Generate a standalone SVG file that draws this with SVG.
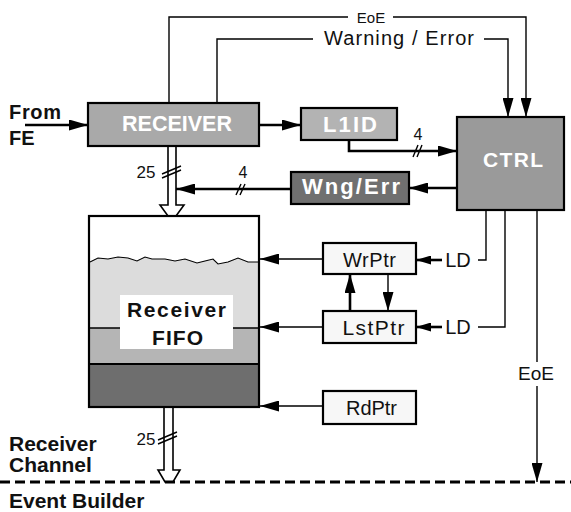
<svg xmlns="http://www.w3.org/2000/svg" width="571" height="512" viewBox="0 0 571 512">
<defs>
<style>
.box{stroke:#000;stroke-width:2.2}
.ln{fill:none;stroke:#000;stroke-width:1.4}
.th{fill:none;stroke:#000;stroke-width:2.6}
.hol{fill:#fff;stroke:#000;stroke-width:1.6;stroke-linejoin:miter}
.wt{font-family:"Liberation Sans",Arial,sans-serif;font-weight:bold;fill:#fff;text-anchor:middle}
.bk{font-family:"Liberation Sans",Arial,sans-serif;font-weight:bold;fill:#111}
.lb{font-family:"Liberation Sans",Arial,sans-serif;fill:#111;text-anchor:middle}
</style>
<marker id="ah" markerUnits="userSpaceOnUse" markerWidth="20" markerHeight="11" refX="19" refY="5.5" orient="auto">
<path d="M0,0 L19,5.5 L0,11 z" fill="#000"/>
</marker>
<marker id="as" markerUnits="userSpaceOnUse" markerWidth="16" markerHeight="9" refX="15" refY="4.5" orient="auto">
<path d="M0,0 L15,4.5 L0,9 z" fill="#000"/>
</marker>
</defs>

<g id="connectors">
<line class="th" x1="25" y1="125" x2="88" y2="125" marker-end="url(#ah)"/>
<polyline class="ln" points="169,103 169,17 348,17"/>
<polyline class="ln" points="393,17 526,17 526,117" marker-end="url(#ah)"/>
<polyline class="ln" points="217,103 217,39 313,39"/>
<polyline class="ln" points="484,39 508,39 508,117" marker-end="url(#ah)"/>
<line class="th" x1="259" y1="125" x2="301" y2="125" marker-end="url(#ah)"/>
<polyline class="th" points="349,140 349,151 457,151" marker-end="url(#ah)"/>
<line class="ln" x1="413" y1="157" x2="418" y2="145"/>
<line class="ln" x1="417" y1="157" x2="422" y2="145"/>
<line class="th" x1="457" y1="188" x2="409" y2="188" marker-end="url(#ah)"/>
<line class="th" x1="291" y1="189" x2="176" y2="189" marker-end="url(#ah)"/>
<line class="ln" x1="236" y1="195" x2="241" y2="184"/>
<line class="ln" x1="240" y1="195" x2="245" y2="184"/>
<path class="hol" d="M168,146 L168,205 L160,205 L168,216 L176,216 L184,205 L176,205 L176,146"/>
<line class="ln" x1="162" y1="174" x2="181" y2="166"/>
<line class="ln" x1="162" y1="178" x2="181" y2="170"/>
<path class="hol" d="M164,407 L164,470 L158,470 L165,482 L173,482 L180,470 L173,470 L173,407"/>
<line class="ln" x1="158" y1="440" x2="177" y2="432"/>
<line class="ln" x1="158" y1="444" x2="177" y2="436"/>
<polyline class="ln" points="486,210 486,260 478,260"/>
<polyline class="ln" points="505,210 505,327 478,327"/>
<line class="ln" x1="537" y1="210" x2="537" y2="362"/>
<line class="ln" x1="537" y1="386" x2="537" y2="482" marker-end="url(#ah)"/>
<line class="th" x1="442" y1="260" x2="416" y2="260" marker-end="url(#as)"/>
<line class="th" x1="442" y1="327" x2="416" y2="327" marker-end="url(#as)"/>
<line class="ln" x1="323" y1="259" x2="260" y2="259" marker-end="url(#ah)"/>
<line class="ln" x1="323" y1="327" x2="260" y2="327" marker-end="url(#ah)"/>
<line class="ln" x1="323" y1="406" x2="260" y2="406" marker-end="url(#ah)"/>
<line class="th" x1="350" y1="311" x2="350" y2="274" marker-end="url(#ah)"/>
<line class="ln" x1="388" y1="274" x2="388" y2="311" marker-end="url(#ah)"/>
<line x1="0" y1="482" x2="571" y2="482" stroke="#000" stroke-width="3" stroke-dasharray="10,5"/>
</g>

<g id="labels">
<text class="lb" x="371" y="23" font-size="15">EoE</text>
<text class="lb" x="399" y="45" font-size="20" textLength="150" lengthAdjust="spacing">Warning / Error</text>
<text class="lb" x="418" y="140" font-size="16">4</text>
<text class="lb" x="243" y="178" font-size="16">4</text>
<text class="lb" x="146" y="178" font-size="17">25</text>
<text class="lb" x="146" y="445" font-size="17">25</text>
<text class="lb" x="458" y="267" font-size="20">LD</text>
<text class="lb" x="458" y="334" font-size="20">LD</text>
<text class="lb" x="536" y="380" font-size="19">EoE</text>
<text class="bk" x="9" y="119" font-size="20" textLength="52" lengthAdjust="spacing">From</text>
<text class="bk" x="9" y="145" font-size="20">FE</text>
<text class="bk" x="9" y="451" font-size="21">Receiver</text>
<text class="bk" x="9" y="472" font-size="21">Channel</text>
<text class="bk" x="9" y="508" font-size="21">Event Builder</text>
</g>

<g id="receiver">
<rect class="box" x="88" y="103" width="171" height="43" fill="#a9a9a9"/>
<text class="wt" x="177" y="131" font-size="21.5" textLength="110" lengthAdjust="spacing">RECEIVER</text>
</g>

<g id="l1id">
<rect class="box" x="301" y="108" width="96" height="32" fill="#b3b3b3"/>
<text class="wt" x="350" y="132" font-size="22" textLength="54" lengthAdjust="spacing">L1ID</text>
</g>

<g id="ctrl">
<rect class="box" x="457" y="117" width="107" height="93" fill="#9a9a9a"/>
<text class="wt" x="513" y="167" font-size="21" textLength="60" lengthAdjust="spacing">CTRL</text>
</g>

<g id="wngerr">
<rect class="box" x="291" y="172" width="118" height="32" fill="#707070"/>
<text class="wt" x="351" y="194" font-size="22" textLength="98" lengthAdjust="spacing">Wng/Err</text>
</g>

<g id="fifo">
<rect x="89" y="216" width="170" height="191" fill="#fff"/>
<path d="M90,262 L98,258 L108,259 L118,257 L128,258 L137,261 L145,257 L152,259 L165,259 L175,261 L185,259 L197,263 L205,261 L213,259 L218,264 L228,262 L238,258 L248,262 L258,262 L258,328 L90,328 Z" fill="#dcdcdc"/>
<path d="M90,262 L98,258 L108,259 L118,257 L128,258 L137,261 L145,257 L152,259 L165,259 L175,261 L185,259 L197,263 L205,261 L213,259 L218,264 L228,262 L238,258 L248,262 L258,262" fill="none" stroke="#000" stroke-width="1.1"/>
<rect x="89" y="328" width="170" height="36" fill="#b5b5b5"/>
<rect x="89" y="364" width="170" height="43" fill="#6e6e6e"/>
<line x1="89" y1="328" x2="259" y2="328" stroke="#000" stroke-width="1.4"/>
<line x1="89" y1="364" x2="259" y2="364" stroke="#000" stroke-width="2"/>
<rect class="box" x="89" y="216" width="170" height="191" fill="none"/>
<rect x="120" y="295" width="113" height="54" fill="#fff"/>
<text class="bk" x="176.5" y="317" font-size="21" text-anchor="middle" textLength="99" lengthAdjust="spacing">Receiver</text>
<text class="bk" x="177.5" y="345" font-size="21" text-anchor="middle" textLength="51" lengthAdjust="spacing">FIFO</text>
</g>

<g id="wrptr">
<rect class="box" x="323" y="243" width="93" height="31" fill="#f7f7f7"/>
<text class="lb" x="369.5" y="267" font-size="20" textLength="53" lengthAdjust="spacing">WrPtr</text>
</g>

<g id="lstptr">
<rect class="box" x="323" y="311" width="93" height="32" fill="#f7f7f7"/>
<text class="lb" x="373.5" y="335" font-size="21" textLength="62" lengthAdjust="spacing">LstPtr</text>
</g>

<g id="rdptr">
<rect class="box" x="323" y="391" width="93" height="33" fill="#f7f7f7"/>
<text class="lb" x="371.5" y="415" font-size="20" textLength="51" lengthAdjust="spacing">RdPtr</text>
</g>
</svg>
